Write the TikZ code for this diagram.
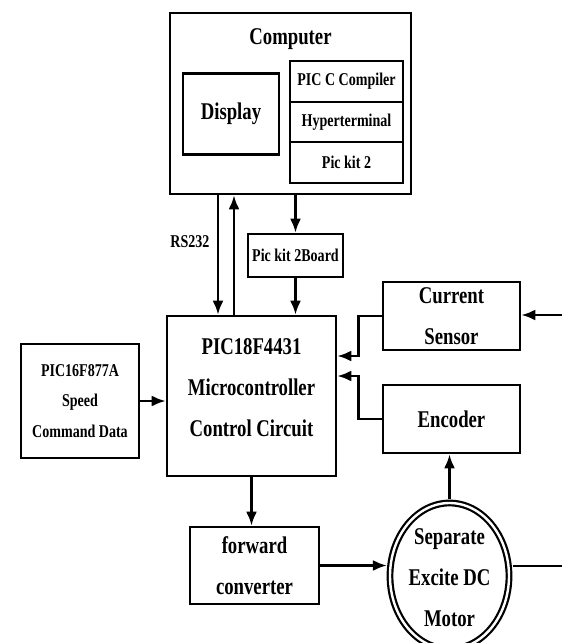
\documentclass[tikz,border=0pt]{standalone}
\usepackage{fontspec}
\setmainfont{Liberation Serif}[FakeStretch=0.78]
\usetikzlibrary{arrows.meta,shapes.geometric}

\begin{document}
\begin{tikzpicture}[x=1pt, y=-1pt,
        blk/.style={draw, line width=2.6pt, inner sep=0pt, align=center},
        big/.style={font=\bfseries\fontsize{24}{41}\selectfont},
        small/.style={font=\bfseries\fontsize{18}{30.5}\selectfont},
        arr/.style={line width=2.6pt, -{Latex[length=14pt,width=11pt]}},
        wire/.style={line width=2.6pt}]
    \useasboundingbox (0,0) rectangle (562,643);

    \node (comp) [blk, minimum width=241, minimum height=181] at (290.5,103.5) {};
    \node (comptxt) [big] at (290.5,39) {Computer};
    \node (disp) [blk, big, minimum width=96, minimum height=81] at (231,114) {Display};
    \node (pcc) [blk, small, minimum width=113, minimum height=41] at (346.5,81.5) {PIC C Compiler};
    \node (hyp) [blk, small, minimum width=113, minimum height=40] at (346.5,122) {Hyperterminal};
    \node (pk) [blk, small, minimum width=113, minimum height=41] at (346.5,162.5) {Pic kit 2};

    \node (pkb) [blk, small, minimum width=95, minimum height=43] at (295.5,255.5) {Pic kit 2Board};
    \node (rs) [small] at (190,242) {RS232};

    \node (mcu) [blk, minimum width=169, minimum height=160] at (251.5,396) {};
    \node (mcutxt) [big, align=center] at (251.5,388) {PIC18F4431\\Microcontroller\\Control Circuit};

    \node (pic16) [blk, small, minimum width=118, minimum height=114] at (80,401) {PIC16F877A\\Speed\\Command Data};

    \node (cs) [blk, big, minimum width=137, minimum height=68] at (451.5,316) {Current\\Sensor};
    \node (enc) [blk, big, minimum width=137, minimum height=68] at (451.5,419) {Encoder};

    \node (fwd) [blk, big, minimum width=129, minimum height=77] at (254.5,565.5) {forward\\converter};
    \node (motor) [ellipse, draw, line width=2.2pt, double, double distance=2.4pt,
        minimum width=119, minimum height=146, inner sep=0pt] at (449.5,576) {};
    \node (motortxt) [big, align=center] at (449.5,578) {Separate\\Excite DC\\Motor};

    \coordinate (csin) at (562,315);
    \coordinate (mout) at (562,566);

    \draw [arr] ([xshift=-33.5pt]mcu.north |- comp.south) -- ([xshift=-33.5pt]mcu.north);
    \draw [arr] ([xshift=-17.5pt]mcu.north) -- ([xshift=-17.5pt]mcu.north |- comp.south);
    \draw [arr] (comp.south -| pkb) -- (pkb.north);
    \draw [arr] (pkb.south) -- (mcu.north -| pkb);
    \draw [arr] (pic16.east) -- (mcu.west |- pic16.east);
    \draw [arr] (csin) -- (cs.east |- csin);
    \draw [arr] (cs.west) -- ++(-23,0) |- ([yshift=40pt]mcu.east);
    \draw [arr] (enc.west) -- ++(-23,0) |- ([yshift=20pt]mcu.east);
    \draw [arr] (mcu.south) -- (mcu.south |- fwd.north);
    \draw [arr, shorten >=2pt] (fwd.east) -- (fwd.east -| motor.west);
    \draw [arr] ([yshift=3pt]motor.north) -- (enc.south -| motor.north);
    \draw [wire] ([xshift=3pt]motor.east |- mout) -- (mout);
\end{tikzpicture}
\end{document}
